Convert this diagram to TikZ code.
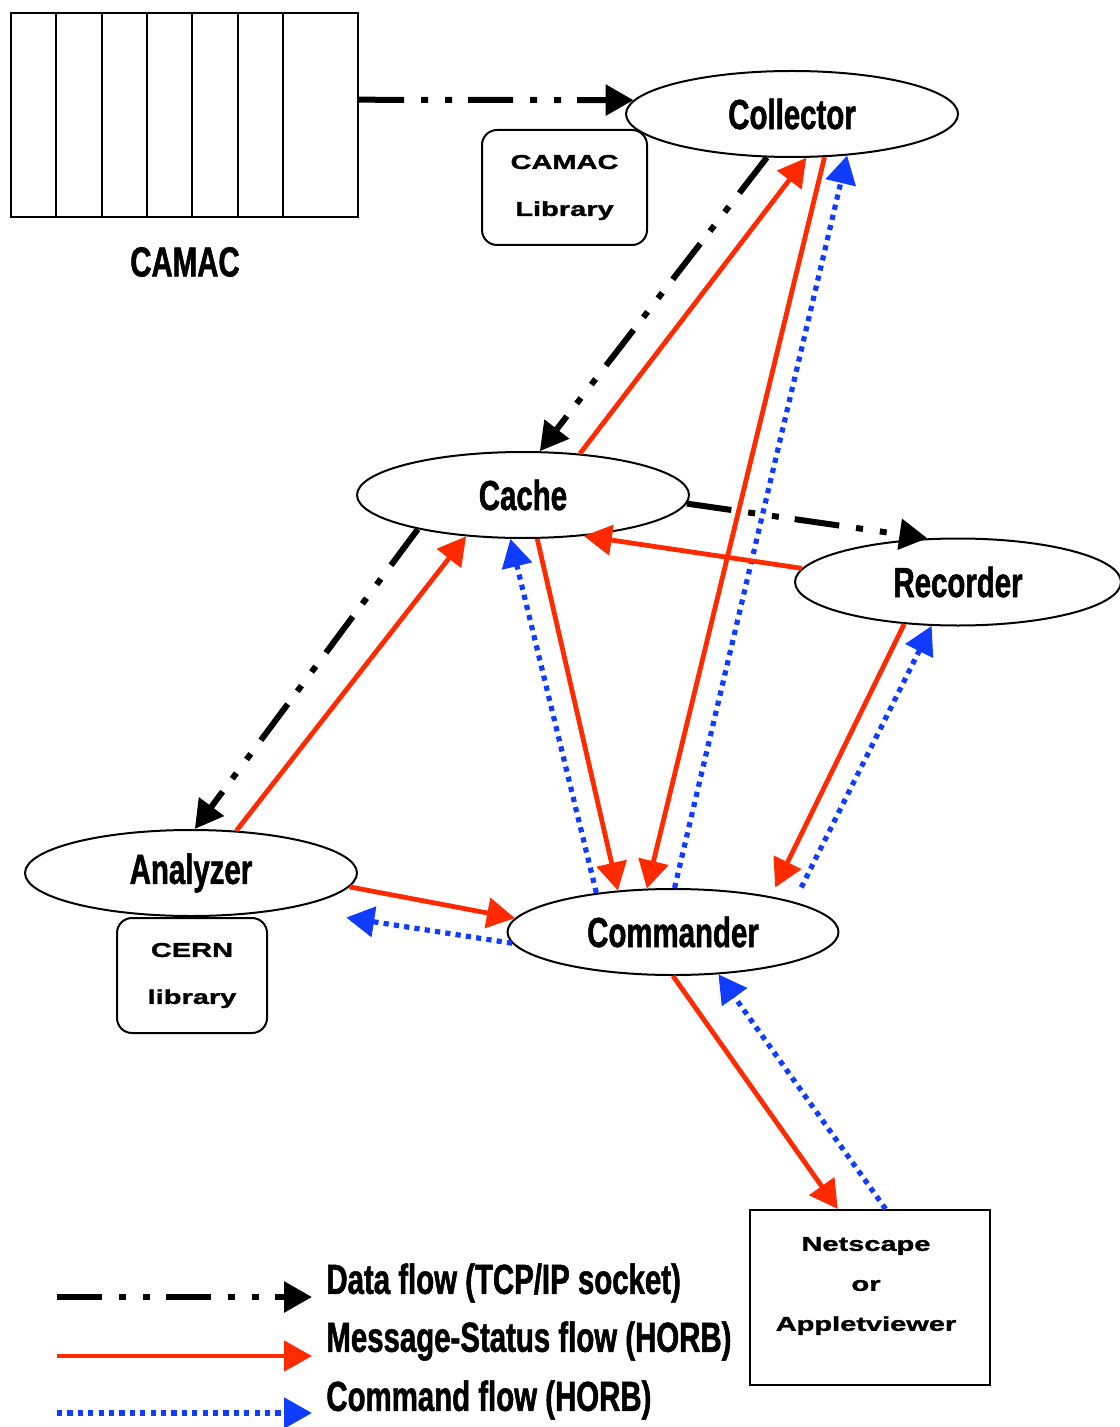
\documentclass[tikz,border=0pt]{standalone}
\usepackage{fontspec}
\setmainfont{Liberation Sans}
\newfontfamily\condfont[FakeStretch=0.7,FakeBold=1.2]{Liberation Sans Bold}
\newfontfamily\widefont[FakeStretch=1.45,FakeBold=1.6]{Liberation Sans Bold}
\usetikzlibrary{arrows.meta,shapes.geometric}
\definecolor{msgred}{RGB}{255,42,0}
\definecolor{cmdblue}{RGB}{16,60,255}
\tikzset{
  proc/.style={ellipse, draw, line width=1pt, inner sep=0pt,
    minimum width=166pt, minimum height=43pt,
    font=\condfont\fontsize{21}{25}\selectfont},
  libbox/.style={draw, rounded corners=7.5pt, line width=1pt, align=center, inner sep=0pt,
    font=\widefont\fontsize{10}{23.5}\selectfont},
  bigtext/.style={font=\condfont\fontsize{21}{25}\selectfont},
  tip/.style={-{Triangle[length=14pt,width=15pt]}},
  dataflow/.style={black, line width=3pt, tip,
    dash pattern=on 22.5pt off 8.5pt on 3.5pt off 8.5pt on 3.5pt off 8pt},
  msgflow/.style={msgred, line width=2.4pt, tip},
  cmdflow/.style={cmdblue, line width=2.6pt, tip, dash pattern=on 2.6pt off 2.6pt}
}
\begin{document}
\begin{tikzpicture}[x=0.5pt,y=-0.5pt]
\useasboundingbox (0,0) rectangle (1119,1427);
% CAMAC crate
\node[draw, line width=1pt, minimum width=173.5pt, minimum height=102pt, inner sep=0pt] (camac) at (184.5,115) {};
\foreach \x in {56,102,147,192,238,283} \draw[line width=1pt] (\x,13) -- (\x,217);
\node[bigtext] (camaclabel) at (185,262) {CAMAC};
% boxes
\node[proc] (collector) at (792,114) {Collector};
\node[libbox, minimum width=82.5pt, minimum height=57.5pt] (camaclib) at (564.5,187.5) {CAMAC\\Library};
\node[proc] (cache) at (523,495) {Cache};
\node[proc, minimum width=163pt, minimum height=43.5pt] (recorder) at (958,582) {Recorder};
\node[proc] (analyzer) at (191,873) {Analyzer};
\node[proc, minimum width=165.5pt] (commander) at (673,932) {Commander};
\node[libbox, minimum width=75pt, minimum height=57.5pt] (cernlib) at (192,975.5) {CERN\\library};
\node[draw, line width=1pt, minimum width=120pt, minimum height=87.5pt, inner sep=0pt] (browser) at (870,1297.5) {};
\node[align=center, font=\widefont\fontsize{10}{20}\selectfont] (browsertext) at (866,1286) {Netscape\\or\\Appletviewer};
% connectors
\draw[dataflow] (camac.5) -- (collector.175);
\draw[dataflow] (collector.240) -- (cache.69);
\draw[msgflow] (cache.36) -- (collector.288);
\draw[msgflow] (collector.307) -- (commander.121);
\draw[cmdflow] (commander.88) -- (collector.323);
\draw[dataflow] (cache.357) -- (recorder.125);
\draw[msgflow] (recorder.175) -- (cache.326);
\draw[dataflow] (cache.198) -- (analyzer.85);
\draw[msgflow] (analyzer.43) -- (cache.216);
\draw[msgflow] (cache.288) -- (commander.143);
\draw[cmdflow] (commander.153) -- (cache.254);
\draw[msgflow, shorten >=5pt] (recorder.218) -- (commander.20);
\draw[cmdflow, shorten <=8pt] (commander.14) -- (recorder.239);
\draw[msgflow] (analyzer.355) -- (commander.175);
\draw[cmdflow, shorten >=29pt] (commander.184) -- (analyzer.340);
\draw[msgflow] (commander.270) -- (browser.110);
\draw[cmdflow] (browser.80) -- (commander.317);
% legend
\coordinate (lda) at (57,1297); \coordinate (ldb) at (312,1297);
\coordinate (lma) at (57,1356); \coordinate (lmb) at (312,1356);
\coordinate (lca) at (57,1413); \coordinate (lcb) at (312,1413);
\draw[dataflow] (lda) -- (ldb);
\draw[msgflow] (lma) -- (lmb);
\draw[cmdflow] (lca) -- (lcb);
\node[bigtext, anchor=west, inner sep=0pt] (legdata) at (326,1283) {Data flow (TCP/IP socket)};
\node[bigtext, anchor=west, inner sep=0pt] (legmsg) at (326,1341) {Message-Status flow (HORB)};
\node[bigtext, anchor=west, inner sep=0pt] (legcmd) at (326,1400) {Command flow (HORB)};
\end{tikzpicture}
\end{document}
